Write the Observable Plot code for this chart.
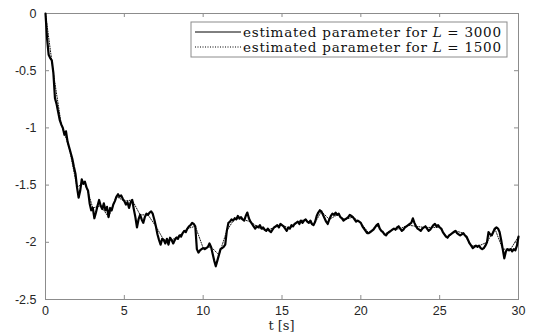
<!DOCTYPE html>
<html>
<head>
<meta charset="utf-8">
<script src="https://cdn.jsdelivr.net/npm/d3@7"></script>
<script src="https://cdn.jsdelivr.net/npm/@observablehq/plot@0.6"></script>
<style>
  html, body { margin: 0; padding: 0; background: #fff; }
  #chart { position: relative; width: 535px; height: 334px; }
</style>
</head>
<body>
<div id="chart"></div>
<script>
// time step of samples (s)
const tStep3000 = 0.1;
const tStep1500 = 0.5;

// estimated parameter, L = 3000 (sampled every 0.1 s from t = 0 to 30)
const est3000 = [
  0, -0.22, -0.36, -0.39, -0.41, -0.52, -0.74, -0.79, -0.86, -0.93,
  -0.97, -1.00, -1.06, -1.03, -1.12, -1.17, -1.22, -1.27, -1.34, -1.40,
  -1.52, -1.61, -1.55, -1.45, -1.49, -1.47, -1.52, -1.55, -1.66, -1.72,
  -1.70, -1.79, -1.74, -1.68, -1.63, -1.68, -1.71, -1.66, -1.72, -1.69,
  -1.78, -1.70, -1.72, -1.67, -1.64, -1.60, -1.58, -1.60, -1.59, -1.62,
  -1.64, -1.67, -1.65, -1.70, -1.65, -1.63, -1.71, -1.78, -1.87, -1.80,
  -1.76, -1.80, -1.83, -1.78, -1.75, -1.76, -1.74, -1.73, -1.75, -1.80,
  -1.86, -1.93, -1.98, -2.02, -1.97, -1.98, -2.01, -1.97, -2.02, -1.96,
  -1.98, -2.01, -1.98, -1.96, -1.97, -1.94, -1.95, -1.92, -1.90, -1.91,
  -1.88, -1.86, -1.85, -1.83, -1.84, -1.86, -2.06, -2.09, -2.07, -2.06,
  -2.05, -2.06, -2.05, -2.04, -2.01, -2.04, -2.10, -2.16, -2.21, -2.16,
  -2.11, -2.06, -2.05, -2.04, -2.02, -1.90, -1.83, -1.82, -1.80, -1.81,
  -1.79, -1.80, -1.77, -1.79, -1.78, -1.80, -1.81, -1.77, -1.74, -1.79,
  -1.82, -1.84, -1.86, -1.88, -1.86, -1.87, -1.85, -1.88, -1.87, -1.89,
  -1.90, -1.88, -1.90, -1.91, -1.89, -1.87, -1.86, -1.85, -1.87, -1.84,
  -1.85, -1.86, -1.88, -1.90, -1.87, -1.88, -1.85, -1.86, -1.84, -1.83,
  -1.82, -1.84, -1.81, -1.83, -1.81, -1.80, -1.82, -1.83, -1.81, -1.84,
  -1.85, -1.82, -1.77, -1.74, -1.72, -1.73, -1.76, -1.79, -1.82, -1.84,
  -1.80, -1.77, -1.75, -1.76, -1.74, -1.76, -1.75, -1.78, -1.79, -1.81,
  -1.80, -1.79, -1.78, -1.76, -1.77, -1.78, -1.80, -1.82, -1.81, -1.82,
  -1.83, -1.86, -1.88, -1.90, -1.92, -1.92, -1.91, -1.90, -1.89, -1.87,
  -1.85, -1.84, -1.88, -1.90, -1.91, -1.93, -1.94, -1.92, -1.91, -1.90,
  -1.89, -1.88, -1.89, -1.87, -1.86, -1.88, -1.90, -1.89, -1.87, -1.86,
  -1.85, -1.84, -1.83, -1.79, -1.83, -1.86, -1.88, -1.89, -1.90, -1.88,
  -1.87, -1.86, -1.88, -1.90, -1.89, -1.87, -1.85, -1.84, -1.86, -1.85,
  -1.87, -1.88, -1.91, -1.93, -1.95, -1.96, -1.94, -1.93, -1.92, -1.91,
  -1.90, -1.92, -1.93, -1.94, -1.93, -1.92, -1.94, -1.95, -1.98, -2.01,
  -2.03, -2.05, -2.04, -2.03, -2.04, -2.03, -2.05, -2.06, -2.05, -2.03,
  -2.00, -1.91, -1.93, -1.94, -1.91, -1.88, -1.87, -1.88, -1.91, -1.98,
  -2.06, -2.14, -2.08, -2.06, -2.07, -2.06, -2.08, -2.06, -2.07, -2.03,
  -1.95
];

// estimated parameter, L = 1500 (sampled every 0.5 s, nearly hidden under the L = 3000 curve)
const est1500 = [
  0, -0.52, -0.97, -1.17, -1.52, -1.47, -1.70, -1.68, -1.78, -1.60,
  -1.64, -1.63, -1.76, -1.76, -1.86, -1.98, -1.98, -1.94, -1.88, -1.86,
  -2.05, -2.04, -2.11, -1.90, -1.79, -1.80, -1.82, -1.87, -1.90, -1.87,
  -1.85, -1.88, -1.82, -1.80, -1.85, -1.73, -1.80, -1.76, -1.80, -1.78,
  -1.83, -1.92, -1.85, -1.93, -1.89, -1.88, -1.85, -1.86, -1.87, -1.87,
  -1.87, -1.96, -1.90, -1.92, -2.03, -2.03, -2.00, -1.88, -2.06, -2.06,
  -1.95
];

const xTicks = [0, 5, 10, 15, 20, 25, 30];
const yTicks = [0, -0.5, -1, -1.5, -2, -2.5];
const legendLabels = [
  {text: "estimated parameter for ", italic: "L", rest: " = 3000", dash: null},
  {text: "estimated parameter for ", italic: "L", rest: " = 1500", dash: "1,1.5"}
];

const data3000 = est3000.map((v, i) => ({t: +(i * tStep3000).toFixed(2), v}));
const data1500 = est1500.map((v, i) => ({t: +(i * tStep1500).toFixed(2), v}));

const axisGrey = "#8c8c8c";
const W = 535, H = 334, mL = 45, mR = 17, mT = 13, mB = 35;
const fw = W - mL - mR, fh = H - mT - mB;

const plot = Plot.plot({
  width: W, height: H,
  marginLeft: mL, marginRight: mR, marginTop: mT, marginBottom: mB,
  x: {domain: [0, 30]},
  y: {domain: [-2.5, 0]},
  style: {fontFamily: "'Liberation Sans', Arial, sans-serif", fontSize: "12.5px", color: "#262626", background: "white"},
  marks: [
    // inward ticks: bottom, top, left, right
    Plot.tickX(xTicks, {x: d => d, stroke: axisGrey, insetTop: fh - 4}),
    Plot.tickX(xTicks, {x: d => d, stroke: axisGrey, insetBottom: fh - 4}),
    Plot.tickY(yTicks, {y: d => d, stroke: axisGrey, insetRight: fw - 4}),
    Plot.tickY(yTicks, {y: d => d, stroke: axisGrey, insetLeft: fw - 4}),
    Plot.frame({stroke: axisGrey}),
    Plot.axisX(xTicks, {anchor: "bottom", tickSize: 0, tickPadding: 7, label: null, tickFormat: d => String(d)}),
    Plot.axisY(yTicks, {anchor: "left", tickSize: 0, tickPadding: 9, label: null, tickFormat: d => String(d)}),
    Plot.line(data1500, {x: "t", y: "v", stroke: "#111", strokeWidth: 1, strokeDasharray: "1,1.5"}),
    Plot.line(data3000, {x: "t", y: "v", stroke: "#000", strokeWidth: 2.2, strokeLinejoin: "round"})
  ]
});

const svg = d3.select(plot);

// x-axis label
svg.append("text")
  .attr("x", mL + fw / 2).attr("y", H - 4)
  .attr("text-anchor", "middle")
  .attr("font-family", "'DejaVu Serif', serif")
  .attr("font-size", 13)
  .attr("fill", "#262626")
  .text("t [s]");

// legend
const lx = 191, ly = 22, lw = 316, lh = 35;
const lg = svg.append("g").attr("text-anchor", "start");
lg.append("rect").attr("x", lx).attr("y", ly).attr("width", lw).attr("height", lh)
  .attr("fill", "white").attr("stroke", axisGrey);
legendLabels.forEach((d, i) => {
  const y = ly + 10 + i * 15;
  lg.append("line").attr("x1", lx + 4).attr("x2", lx + 50).attr("y1", y).attr("y2", y)
    .attr("stroke", "#000").attr("stroke-width", d.dash ? 1.2 : 1)
    .attr("stroke-dasharray", d.dash);
  const t = lg.append("text").attr("x", lx + 52).attr("y", y + 4.5)
    .attr("text-anchor", "start")
    .attr("font-family", "'DejaVu Serif', serif").attr("font-size", 13.5)
    .attr("fill", "#111")
    .attr("textLength", lw - 58).attr("lengthAdjust", "spacing");
  t.append("tspan").text(d.text);
  t.append("tspan").attr("font-style", "italic").text(d.italic);
  t.append("tspan").text(d.rest);
});

document.getElementById("chart").appendChild(plot);
</script>
</body>
</html>
